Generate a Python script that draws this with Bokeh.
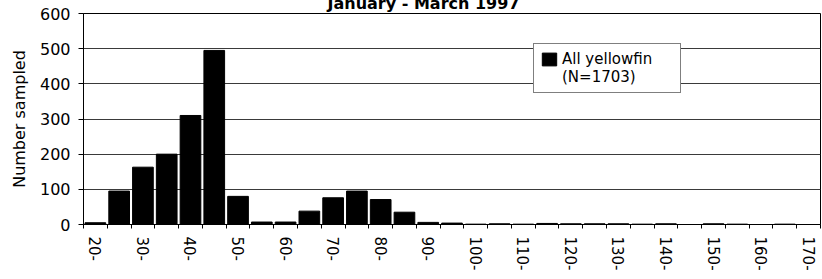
import math
from bokeh.plotting import figure
from bokeh.models import FixedTicker, Legend, LegendItem, Range1d
from bokeh.embed import file_html
from bokeh.resources import INLINE

# ---- data ----
lengths = [20, 25, 30, 35, 40, 45, 50, 55, 60, 65, 70, 75, 80, 85, 90, 95,
           100, 105, 110, 115, 120, 125, 130, 135, 140, 145, 150, 155, 160, 165, 170]
counts = [5, 95, 163, 200, 310, 495, 80, 7, 7, 38, 76, 95, 71, 35, 6, 4,
          1, 2, 1, 3, 2, 2, 2, 1, 2, 0, 2, 1, 0, 1, 0]
tick_values = [20, 30, 40, 50, 60, 70, 80, 90, 100, 110, 120, 130, 140, 150, 160, 170]
tick_labels = ["20-", "30-", "40-", "50-", "60-", "70-", "80-", "90-", "100-",
               "110-", "120-", "130-", "140-", "150-", "160-", "170-"]
y_ticks = [0, 100, 200, 300, 400, 500, 600]
title_text = "January - March 1997"
y_label = "Number sampled"
series_name = "All yellowfin"
series_note = "(N=1703)"

FONT = "DejaVu Sans"
n = len(lengths)
x = list(range(n))

p = figure(frame_width=737, frame_height=211, output_backend="svg", toolbar_location=None,
           x_range=Range1d(-0.5, n - 0.5), y_range=Range1d(y_ticks[0], y_ticks[-1]),
           min_border_left=83, min_border_right=2, min_border_top=27, min_border_bottom=55,
           background_fill_color="white", border_fill_color="white")
# the reference page shows only the lower part of the title: lift the canvas a little
p.styles = {"margin-top": "-14px"}
p.outline_line_color = "black"
p.outline_line_width = 1

p.title.text = title_text
p.title.align = "left"
p.title.offset = 244
p.title.standoff = 2
p.title.text_font = FONT
p.title.text_font_size = "16px"
p.title.text_font_style = "bold"
p.title.text_color = "black"

bars = p.vbar(x=x, top=counts, width=0.87, fill_color="black", line_color="black")
blank = p.vbar(x=[], top=[], width=0.87, fill_alpha=0, line_alpha=0)

# y axis
p.yaxis.ticker = FixedTicker(ticks=y_ticks, minor_ticks=[])
p.yaxis.axis_label = y_label
p.yaxis.axis_label_text_font = FONT
p.yaxis.axis_label_text_font_size = "16px"
p.yaxis.axis_label_text_font_style = "normal"
p.yaxis.axis_label_text_color = "black"
p.yaxis.axis_label_standoff = 8
p.yaxis.major_label_text_font = FONT
p.yaxis.major_label_text_font_size = "16px"
p.yaxis.major_label_text_color = "black"
p.yaxis.major_tick_out = 5
p.yaxis.major_tick_in = 0
p.yaxis.major_label_standoff = 8
p.yaxis.axis_line_color = "black"
p.yaxis.major_tick_line_color = "black"

# x axis
tick_pos = [lengths.index(v) for v in tick_values]
bounds = [i - 0.5 for i in range(n + 1)]
p.xaxis.ticker = FixedTicker(ticks=tick_pos, minor_ticks=bounds)
p.xaxis.major_label_overrides = {t: lbl for t, lbl in zip(tick_pos, tick_labels)}
p.xaxis.major_label_orientation = -math.pi / 2
p.xaxis.major_label_text_font = FONT
p.xaxis.major_label_text_font_size = "15px"
p.xaxis.major_label_text_color = "black"
p.xaxis.major_tick_line_color = None
p.xaxis.minor_tick_line_color = "black"
p.xaxis.minor_tick_out = 4
p.xaxis.minor_tick_in = 0
p.xaxis.major_label_standoff = 6
p.xaxis.axis_line_color = "black"

# grid
p.xgrid.grid_line_color = None
p.ygrid.ticker = FixedTicker(ticks=y_ticks)
p.ygrid.grid_line_color = "#3a3a3a"
p.ygrid.grid_line_width = 1

legend = Legend(items=[LegendItem(label=series_name, renderers=[bars]),
                       LegendItem(label=series_note, renderers=[blank])],
                location=(450, 131), padding=6, spacing=0,
                glyph_width=18, glyph_height=16, label_height=16, label_width=112,
                label_standoff=4, label_text_font=FONT, label_text_font_size="15px",
                label_text_color="black", border_line_color="black", border_line_width=1,
                background_fill_color="white", background_fill_alpha=1.0)
p.add_layout(legend)

open("out.html", "w").write(file_html(p, INLINE))
